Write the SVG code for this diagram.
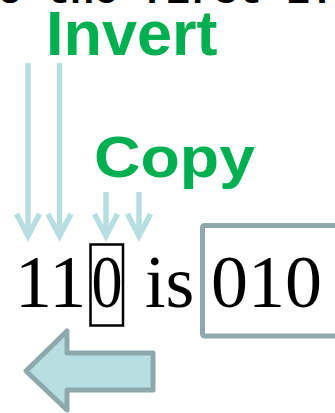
<svg xmlns="http://www.w3.org/2000/svg" width="335" height="413" viewBox="0 0 335 413">
  <defs>
    <style>
      .caption { font-family: "Liberation Mono", "Courier New", monospace; font-weight: bold; font-size: 40px; fill: #000; }
      .label { font-family: "Liberation Sans", Arial, sans-serif; font-weight: bold; fill: #00B050; }
      .bits { font-family: "Liberation Serif", "Times New Roman", serif; font-size: 74px; fill: #000; }
      .pointer { fill: none; stroke: #B7DEE1; stroke-width: 5.5; stroke-linecap: butt; stroke-linejoin: miter; }
    </style>
  </defs>

  <rect width="335" height="413" fill="#fff"/>

  <!-- caption line running off the top edge -->
  <text class="caption" x="-26" y="3">to the first 1:</text>

  <g id="invert-label">
    <text class="label" x="46" y="55" font-size="63">Invert</text>
  </g>

  <g id="copy-label">
    <text class="label" x="94" y="177" font-size="58" textLength="161" lengthAdjust="spacingAndGlyphs">Copy</text>
  </g>

  <g id="connectors">
    <path class="pointer" d="M28,63 V236"/>
    <path class="pointer" d="M59.5,63 V236"/>
    <path class="pointer" d="M106,192 V236"/>
    <path class="pointer" d="M139,192 V236"/>
    <path class="pointer" d="M16.5,214 L28,236 L39.5,214"/>
    <path class="pointer" d="M48,214 L59.5,236 L71,214"/>
    <path class="pointer" d="M94.5,214 L106,236 L117.5,214"/>
    <path class="pointer" d="M127.5,214 L139,236 L150.5,214"/>
  </g>

  <g id="input-bits">
    <text class="bits" x="15" y="307">11</text>
  </g>

  <g id="boxed-zero">
    <text class="bits" x="91.5" y="307" textLength="31" lengthAdjust="spacingAndGlyphs">0</text>
    <rect x="90.5" y="244.5" width="32.5" height="81" fill="none" stroke="#000" stroke-width="2.5"/>
  </g>

  <g id="is-word">
    <text class="bits" x="145" y="307">is</text>
  </g>

  <g id="result-box">
    <rect x="202.5" y="225.5" width="200" height="110.5" rx="2" fill="none" stroke="#8EA9AC" stroke-width="5"/>
    <text class="bits" x="211" y="307">010</text>
  </g>

  <g id="left-arrow">
    <path d="M26,371 L67,331 L67,353 L153,353 L153,390 L67,390 L67,410 Z" fill="#B7DEE1" stroke="#8EA9AC" stroke-width="5" stroke-linejoin="round"/>
  </g>
</svg>
